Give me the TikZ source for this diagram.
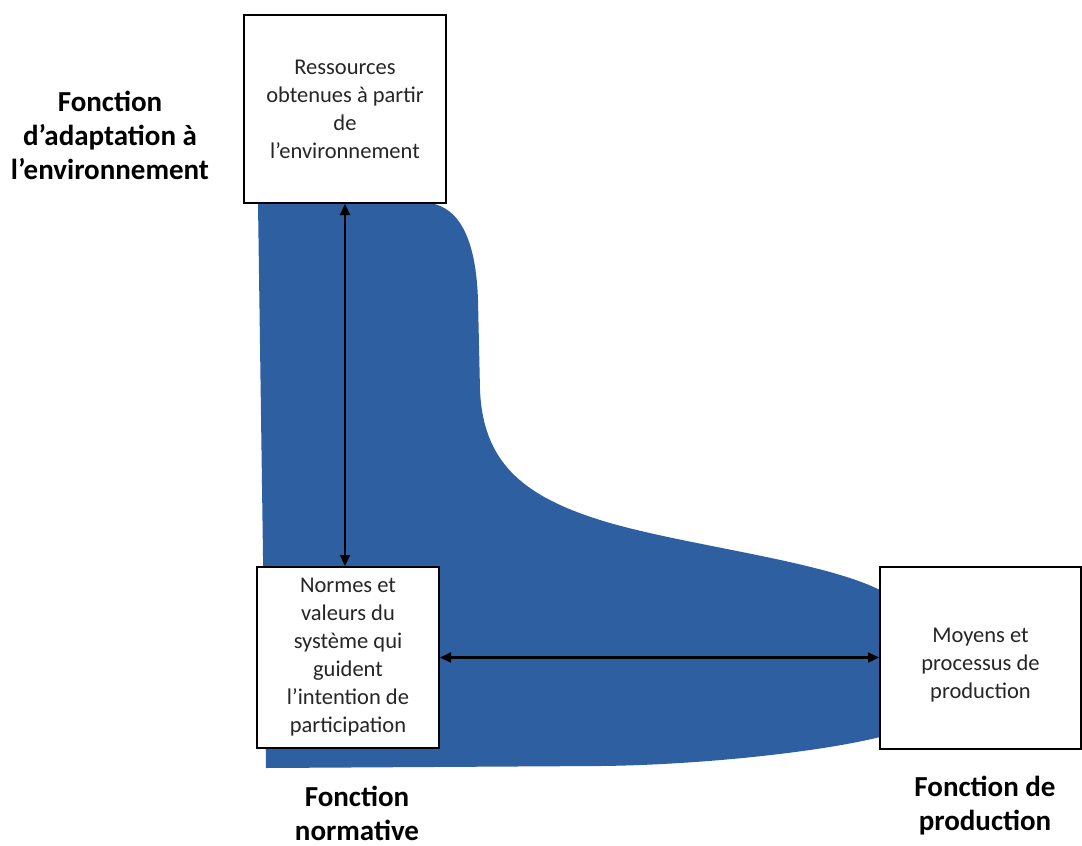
\documentclass[tikz,border=0pt]{standalone}
\usepackage{fontspec}
\setmainfont{Carlito}
\usetikzlibrary{arrows.meta}
\definecolor{flowblue}{RGB}{46,95,161}
\definecolor{boxtext}{RGB}{38,38,38}
\begin{document}
\begin{tikzpicture}[x=1pt,y=-1pt,
  box/.style={draw=black,line width=2pt,fill=white,align=center,
    text=boxtext,font=\fontsize{22.5}{28}\selectfont,inner sep=0pt},
  boxlabel/.style={align=center,text=boxtext,font=\fontsize{22.5}{28}\selectfont,inner sep=0pt},
  func/.style={align=center,font=\bfseries\fontsize{29}{34}\selectfont},
  link/.style={line width=2.2pt,{Triangle[length=11pt,width=10pt]}-{Triangle[length=11pt,width=10pt]}}]
\useasboundingbox (0,0) rectangle (1082,846);

% blue band joining the three functions
\fill[flowblue] (258,203) -- (430,203)
  .. controls (460,208) and (476,240) .. (478,300)
  -- (480,390)
  .. controls (483,460) and (520,495) .. (600,520)
  .. controls (680,545) and (820,560) .. (880,590)
  -- (905,605) -- (905,730) -- (880,737)
  .. controls (820,752) and (700,765) .. (600,766)
  -- (266,768) -- cycle;

% boxes
\node[box,minimum width=202pt,minimum height=188pt] (res) at (345,109)
  {Ressources\\obtenues à partir\\de\\l’environnement};
\node[box,minimum width=182pt,minimum height=181pt] (norm) at (348,657.5)
  {Normes et\\valeurs du\\système qui\\guident\\l’intention de\\participation};
\node[box,minimum width=201pt,minimum height=182pt] (prod) at (980.5,658) {};
\node[boxlabel] (prodtext) at (980.5,665) {Moyens et\\processus de\\production};

% connectors
\draw[link] (res.south) -- (res.south |- norm.north);
\draw[link] (norm.east) -- (norm.east -| prod.west);

% function labels
\node[func] (fadapt) at (110,135) {Fonction\\d’adaptation à\\l’environnement};
\node[func] (fnorm) at (357,813) {Fonction\\normative};
\node[func] (fprod) at (985,806) {Fonction de\\production};
\end{tikzpicture}
\end{document}
